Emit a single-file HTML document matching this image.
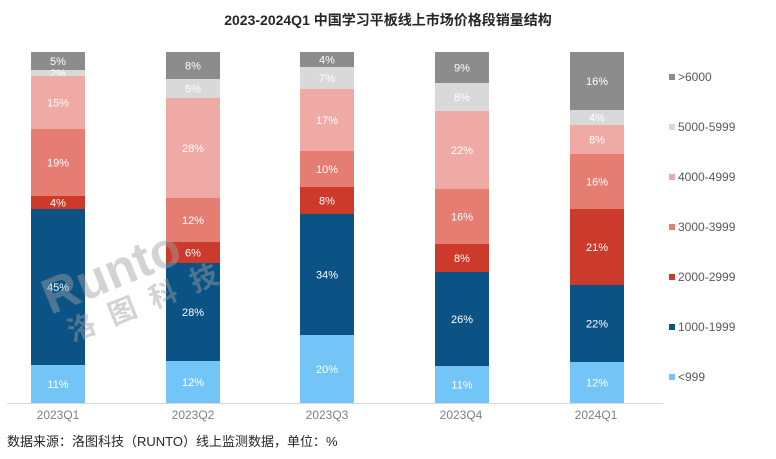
<!DOCTYPE html><html><head><meta charset="utf-8"><style>
body{margin:0;background:#fff;width:776px;height:454px;overflow:hidden}
svg text{font-family:"Liberation Sans","Noto Sans CJK SC",sans-serif}
</style></head><body>
<svg width="776" height="454" xmlns="http://www.w3.org/2000/svg">
<text x="388" y="25" text-anchor="middle" font-size="14" font-weight="bold" fill="#262626">2023-2024Q1 中国学习平板线上市场价格段销量结构</text>
<line x1="7" y1="403.5" x2="663" y2="403.5" stroke="#d9d9d9"/>
<g id="bars"></g>
<g font-size="12" fill="#7f7f7f" text-anchor="middle">
<text x="58" y="419">2023Q1</text><text x="193" y="419">2023Q2</text><text x="327" y="419">2023Q3</text><text x="461" y="419">2023Q4</text><text x="596" y="419">2024Q1</text></g>
<text x="7" y="446" font-size="13" fill="#262626">数据来源：洛图科技（RUNTO）线上监测数据，单位：%</text>
<g font-size="12" fill="#595959">
<rect x="669" y="74" width="6" height="6" fill="#8c8c8c"/><text x="678" y="81">&gt;6000</text>
<rect x="669" y="124" width="6" height="6" fill="#d9d9d9"/><text x="678" y="131">5000-5999</text>
<rect x="669" y="174" width="6" height="6" fill="#f0aaa5"/><text x="678" y="181">4000-4999</text>
<rect x="669" y="224" width="6" height="6" fill="#e57d72"/><text x="678" y="231">3000-3999</text>
<rect x="669" y="274" width="6" height="6" fill="#cc3a2b"/><text x="678" y="281">2000-2999</text>
<rect x="669" y="324" width="6" height="6" fill="#0b5385"/><text x="678" y="331">1000-1999</text>
<rect x="669" y="374" width="6" height="6" fill="#74c5f7"/><text x="678" y="381">&lt;999</text>
</g>
<g opacity="0.45" fill="#a0a0a0" font-weight="bold" transform="rotate(-22 120 260)">
<text x="35" y="285" font-size="50">Runto</text>
<text x="45" y="318" font-size="28" letter-spacing="16">洛图科技</text></g>
</svg>
<script>
var cols=["#8c8c8c","#d9d9d9","#f0aaa5","#e57d72","#cc3a2b","#0b5385","#74c5f7"];
var bars=[[31,[52,70,76,129,196,209,365,403],["5%","2%","15%","19%","4%","45%","11%"]],
[166,[52,79,98,198,242,263,361,403],["8%","5%","28%","12%","6%","28%","12%"]],
[300,[52,67,89,151,187,214,335,403],["4%","7%","17%","10%","8%","34%","20%"]],
[435,[52,83,111,189,244,272,366,403],["9%","8%","22%","16%","8%","26%","11%"]],
[570,[52,110,125,154,209,285,362,403],["16%","4%","8%","16%","21%","22%","12%"]]];
var s="";bars.forEach(function(b){for(var i=0;i<7;i++){var y0=b[1][i],y1=b[1][i+1];
s+='<rect x="'+b[0]+'" y="'+y0+'" width="54" height="'+(y1-y0)+'" fill="'+cols[i]+'"/>';
s+='<text x="'+(b[0]+27)+'" y="'+((y0+y1)/2+4)+'" text-anchor="middle" font-size="11" fill="#fff">'+b[2][i]+'</text>';}});
document.getElementById("bars").innerHTML=s;
</script>
</body></html>
